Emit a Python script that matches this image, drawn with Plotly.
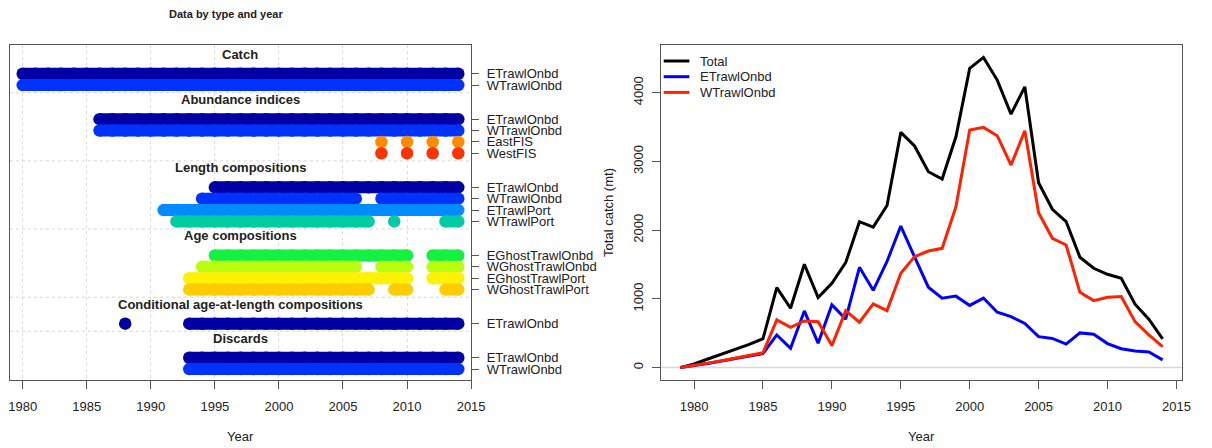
import plotly.graph_objects as go


def yrs(a, b):
    """Inclusive run of consecutive years."""
    return list(range(a, b + 1))


# ---------------- data availability by type, fleet and year ----------------
catch_etrawl_onbd = yrs(1980, 2014)
catch_wtrawl_onbd = yrs(1980, 2014)

abund_etrawl_onbd = yrs(1986, 2014)
abund_wtrawl_onbd = yrs(1986, 2014)
abund_eastfis = [2008, 2010, 2012, 2014]
abund_westfis = [2008, 2010, 2012, 2014]

len_etrawl_onbd = yrs(1995, 2014)
len_wtrawl_onbd = yrs(1994, 2006) + yrs(2008, 2014)
len_etrawl_port = yrs(1991, 2014)
len_wtrawl_port = yrs(1992, 2007) + [2009] + yrs(2013, 2014)

age_eghost_onbd = yrs(1995, 2010) + yrs(2012, 2014)
age_wghost_onbd = yrs(1994, 2006) + yrs(2008, 2010) + yrs(2012, 2014)
age_eghost_port = yrs(1993, 2010) + yrs(2012, 2014)
age_wghost_port = yrs(1993, 2007) + yrs(2009, 2010) + yrs(2013, 2014)

caal_etrawl_onbd = [1988] + yrs(1993, 2014)

disc_etrawl_onbd = yrs(1993, 2014)
disc_wtrawl_onbd = yrs(1993, 2014)

data_types = [
    ("Catch", [("ETrawlOnbd", catch_etrawl_onbd), ("WTrawlOnbd", catch_wtrawl_onbd)]),
    ("Abundance indices", [("ETrawlOnbd", abund_etrawl_onbd), ("WTrawlOnbd", abund_wtrawl_onbd),
                           ("EastFIS", abund_eastfis), ("WestFIS", abund_westfis)]),
    ("Length compositions", [("ETrawlOnbd", len_etrawl_onbd), ("WTrawlOnbd", len_wtrawl_onbd),
                             ("ETrawlPort", len_etrawl_port), ("WTrawlPort", len_wtrawl_port)]),
    ("Age compositions", [("EGhostTrawlOnbd", age_eghost_onbd), ("WGhostTrawlOnbd", age_wghost_onbd),
                          ("EGhostTrawlPort", age_eghost_port), ("WGhostTrawlPort", age_wghost_port)]),
    ("Conditional age-at-length compositions", [("ETrawlOnbd", caal_etrawl_onbd)]),
    ("Discards", [("ETrawlOnbd", disc_etrawl_onbd), ("WTrawlOnbd", disc_wtrawl_onbd)]),
]

fleet_colors = {
    "ETrawlOnbd": "#0000A4",
    "WTrawlOnbd": "#0033FF",
    "ETrawlPort": "#008CFF",
    "WTrawlPort": "#00CCA4",
    "EGhostTrawlOnbd": "#13F243",
    "WGhostTrawlOnbd": "#BAFF12",
    "EGhostTrawlPort": "#FCF203",
    "WGhostTrawlPort": "#FFCC00",
    "EastFIS": "#FF8C00",
    "WestFIS": "#FF3300",
}

# ---------------- catch time series (mt) ----------------
catch_years = yrs(1979, 2014)
catch_total = [0, 53, 125, 195, 265, 337, 420, 1164, 864, 1504, 1020, 1227, 1527, 2124,
               2045, 2360, 3424, 3225, 2851, 2745, 3360, 4355, 4515, 4185, 3690, 4087,
               2691, 2304, 2124, 1606, 1446, 1358, 1300, 922, 704, 417]
catch_etrawl = [0, 25, 60, 95, 130, 165, 205, 475, 280, 825, 355, 915, 705, 1460,
                1125, 1545, 2060, 1610, 1170, 1009, 1040, 905, 1012, 805, 742, 642,
                450, 424, 342, 505, 485, 350, 275, 240, 226, 112]
catch_wtrawl = [0, 28, 65, 100, 135, 172, 215, 694, 587, 679, 669, 320, 829, 660,
                927, 829, 1373, 1615, 1697, 1736, 2342, 3457, 3497, 3375, 2948, 3447,
                2255, 1882, 1785, 1096, 975, 1024, 1033, 669, 476, 305]

catch_series = [("Total", catch_total, "#000000"),
                ("ETrawlOnbd", catch_etrawl, "#0000FF"),
                ("WTrawlOnbd", catch_wtrawl, "#FF2200")]

# ---------------- layout helpers ----------------
W, H = 1212, 448
FONT = "Liberation Sans, Arial, Helvetica, sans-serif"
TXT = "#222222"
FRAME = "#555555"


def fx(p):
    return p / W


def fy(p):
    return 1 - p / H


fig = go.Figure()

# ---------------- left panel: data by type and year ----------------
row_pos, row_text = [], []
headers, separators = [], []
pos = 0
for gi, (label, fleets) in enumerate(data_types):
    if gi > 0:
        pos += 2
    headers.append((label, pos - 1.72))
    for name, years in fleets:
        xs, ys = [], []
        prev = None
        for yr in years:
            if prev is not None and yr - prev > 1:
                xs.append(None)
                ys.append(None)
            xs.append(yr)
            ys.append(pos)
            prev = yr
        fig.add_trace(go.Scatter(
            x=xs, y=ys, mode="lines+markers", xaxis="x", yaxis="y",
            line=dict(color=fleet_colors[name], width=12),
            marker=dict(color=fleet_colors[name], size=12.5, line=dict(width=0)),
            connectgaps=False, showlegend=False, hoverinfo="skip"))
        row_pos.append(pos)
        row_text.append(name)
        pos += 1
    separators.append(pos - 1 + 0.67)
last_row = pos - 1

shapes = []
for s in separators[:-1]:
    shapes.append(dict(type="line", xref="x domain", x0=0, x1=1, yref="y", y0=s, y1=s,
                       line=dict(color="#d6d6d6", width=1, dash="dot"), layer="below"))

annotations = []
for label, ypos in headers:
    annotations.append(dict(text="<b>%s</b>" % label, xref="x domain", x=0.5, yref="y", y=ypos,
                            showarrow=False, xanchor="center", yanchor="middle",
                            font=dict(size=13, color=TXT, family=FONT)))

annotations.append(dict(text="<b>Data by type and year</b>", xref="paper", yref="paper",
                        x=fx(228), y=fy(14), showarrow=False, xanchor="center", yanchor="middle",
                        font=dict(size=11, color=TXT, family=FONT)))
annotations.append(dict(text="Year", xref="paper", yref="paper", x=fx(242.5), y=fy(436),
                        showarrow=False, xanchor="center", yanchor="middle",
                        font=dict(size=13, color=TXT, family=FONT)))

# ---------------- right panel: catch by fleet ----------------
for name, vals, col in catch_series:
    fig.add_trace(go.Scatter(x=catch_years, y=vals, mode="lines", xaxis="x2", yaxis="y2",
                             line=dict(color=col, width=3), name=name, showlegend=False,
                             hoverinfo="skip"))

shapes.append(dict(type="line", xref="x2 domain", x0=0, x1=1, yref="y2", y0=0, y1=0,
                   line=dict(color="#d8d8d8", width=1.5), layer="below"))

# legend keys
for i, (name, _, col) in enumerate(catch_series):
    ly = 61 + i * 15.7
    shapes.append(dict(type="line", xref="paper", yref="paper", x0=fx(671), x1=fx(697),
                       y0=fy(ly), y1=fy(ly), line=dict(color=col, width=3)))
    annotations.append(dict(text=name, xref="paper", yref="paper", x=fx(706), y=fy(ly),
                            showarrow=False, xanchor="left", yanchor="middle",
                            font=dict(size=13, color=TXT, family=FONT)))

annotations.append(dict(text="Year", xref="paper", yref="paper", x=fx(932), y=fy(436),
                        showarrow=False, xanchor="center", yanchor="middle",
                        font=dict(size=13, color=TXT, family=FONT)))
annotations.append(dict(text="Total catch (mt)", xref="paper", yref="paper", x=fx(615),
                        y=fy(212.5), showarrow=False, textangle=-90, xanchor="center",
                        yanchor="middle", font=dict(size=13, color=TXT, family=FONT)))

x_lo, x_hi = min(catch_years), max(catch_years)
x_pad = 0.04 * (x_hi - x_lo)
y_hi = max(catch_total)
y_pad = 0.04 * y_hi

tickfont = dict(size=13, color=TXT, family=FONT)
year_ticks = list(range(1980, 2016, 5))

fig.update_layout(
    width=W, height=H, margin=dict(l=0, r=0, t=0, b=0),
    paper_bgcolor="white", plot_bgcolor="white", showlegend=False,
    font=dict(family=FONT, color=TXT),
    xaxis=dict(domain=[fx(9), fx(476)], range=[1979, 2015], anchor="y",
               tickvals=year_ticks, ticks="outside", ticklen=8, tickcolor=FRAME,
               tickfont=tickfont, showline=True, mirror=True, linecolor=FRAME, linewidth=1,
               showgrid=True, gridcolor="#dcdcdc", griddash="dot", gridwidth=1,
               zeroline=False, ticklabelstandoff=6),
    yaxis=dict(domain=[fy(380), fy(45)], range=[last_row + 0.96, -2.53], anchor="x",
               side="right", tickvals=row_pos, ticktext=row_text, ticks="outside",
               ticklen=7, tickcolor=FRAME, tickfont=tickfont, showline=True, mirror=True,
               linecolor=FRAME, linewidth=1, showgrid=False, zeroline=False,
               ticklabelstandoff=5),
    xaxis2=dict(domain=[fx(668.3), fx(1195.7)], range=[x_lo - x_pad, x_hi + x_pad],
                anchor="y2", tickvals=year_ticks, ticks="outside", ticklen=8,
                tickcolor=FRAME, tickfont=tickfont, showline=True, mirror=True,
                linecolor=FRAME, linewidth=1, showgrid=False, zeroline=False,
                ticklabelstandoff=6),
    yaxis2=dict(domain=[fy(380), fy(45)], range=[-y_pad, y_hi + y_pad], anchor="x2",
                tickvals=[0, 1000, 2000, 3000, 4000], tickangle=-90, ticks="outside",
                ticklen=8, tickcolor=FRAME, tickfont=tickfont, showline=True, mirror=True,
                linecolor=FRAME, linewidth=1, showgrid=False, zeroline=False,
                ticklabelstandoff=4),
    shapes=shapes,
    annotations=annotations,
)

fig.write_html("out.html")
